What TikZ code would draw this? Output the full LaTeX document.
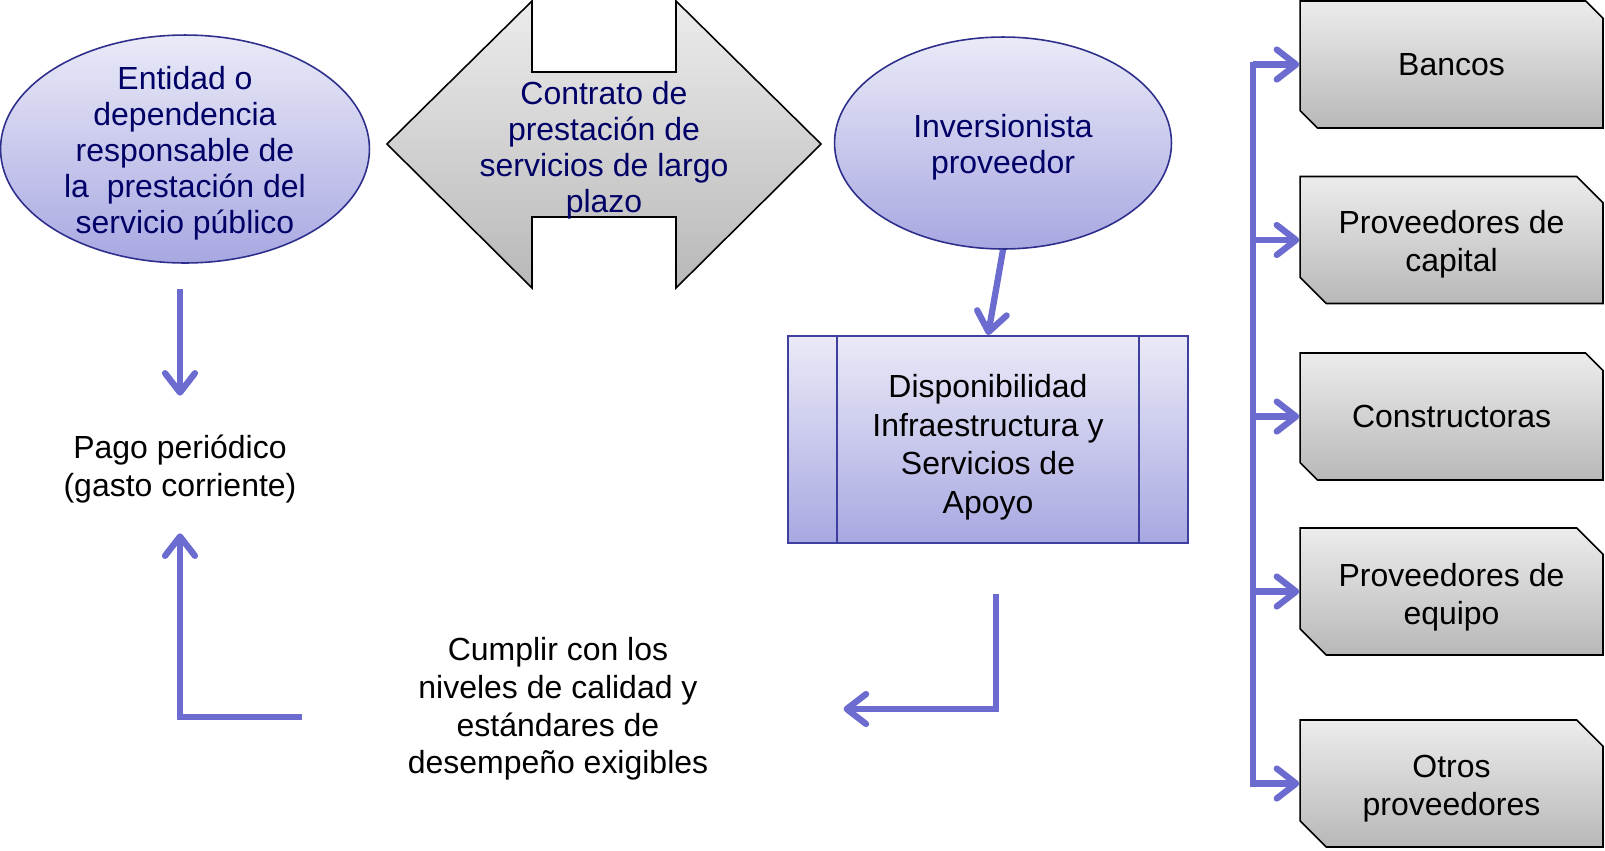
\documentclass[tikz,border=0pt]{standalone}
\usepackage{fontspec}
\setmainfont{Liberation Sans}
\usepackage{tikz}
\usetikzlibrary{shapes,arrows.meta,positioning,calc}

\definecolor{lavtop}{RGB}{234,234,248}
\definecolor{lavbot}{RGB}{168,168,226}
\definecolor{ellline}{RGB}{46,46,140}
\definecolor{procline}{RGB}{63,63,160}
\definecolor{navytext}{RGB}{0,0,102}
\definecolor{graytop}{RGB}{236,236,236}
\definecolor{graybot}{RGB}{184,184,184}
\definecolor{flowblue}{RGB}{108,108,208}

\newcommand{\diafont}{\fontsize{18.2}{21.5}\selectfont}
\newcommand{\navyfont}{\fontsize{18.2}{20.4}\selectfont}
\newcommand{\procfont}{\fontsize{18.2}{22}\selectfont}
% invisible strut that lowers the text block a little
\newcommand{\topline}[1][1em]{\rule{0pt}{#1}}

\begin{document}
\begin{tikzpicture}[x=0.02cm, y=-0.02cm]
    % Define styles
    \tikzset{
        ente/.style={draw=ellline, line width=0.9pt, ellipse, top color=lavtop, bottom color=lavbot, inner xsep=0pt, inner ysep=-0.5cm, text=navytext, align=center, font=\navyfont},
        proc/.style={draw=procline, line width=1.1pt, rectangle, top color=lavtop, bottom color=lavbot, minimum width=8cm, minimum height=4.14cm, align=center, font=\procfont},
        actor/.style={draw=black, line width=0.9pt, chamfered rectangle, chamfered rectangle corners={north east, south west}, chamfered rectangle xsep=0.4cm, top color=graytop, bottom color=graybot, minimum width=6.06cm, minimum height=2.54cm, inner sep=0pt, align=center, font=\diafont},
        plain/.style={inner sep=0pt, align=center, font=\diafont},
        flow/.style={draw=flowblue, line width=3.6pt, -{Straight Barb[length=11pt, width=17pt, round]}}
    }
    \useasboundingbox (0,0) rectangle (1605,850);

    % Contract double arrow
    \path[draw, line width=0.9pt, top color=graytop, bottom color=graybot]
        (387,144) -- (532,1) -- (532,72) -- (676,72) -- (676,1) -- (821,144)
        -- (676,288) -- (676,217) -- (532,217) -- (532,288) -- cycle;

    % Place nodes
    \node[ente, minimum width=7.38cm, minimum height=4.56cm] (ent) at (185,149) {\topline Entidad o\\dependencia\\responsable de\\la\ \ prestación del\\servicio público};
    \node[plain, text=navytext, font=\navyfont] (contrato) at (604,150) {Contrato de\\prestación de\\servicios de largo\\plazo};
    \node[ente, minimum width=6.74cm, minimum height=4.24cm] (inv) at (1003,143) {\topline Inversionista\\proveedor};
    \node[proc] (disp) at (988,439.5) {\topline[1.2em]Disponibilidad\\Infraestructura y\\Servicios de\\Apoyo};
    \node[plain] (pago) at (180,469) {Pago periódico\\(gasto corriente)};
    \node[plain] (cumplir) at (558,709) {Cumplir con los\\niveles de calidad y\\estándares de\\desempeño exigibles};

    \node[actor] (bancos) at (1451.5,64.5) {Bancos};
    \node[actor] (capital) at (1451.5,240) {\topline Proveedores de\\capital};
    \node[actor] (constr) at (1451.5,416.5) {Constructoras};
    \node[actor] (equipo) at (1451.5,591.5) {\topline[1.1em]Proveedores de\\equipo};
    \node[actor] (otros) at (1451.5,783.5) {\topline Otros\\proveedores};
    \coordinate (trunk) at (1253,0);

    % Side bars of the process box
    \draw[procline, line width=1.1pt] ([xshift=1cm]disp.north west) -- ([xshift=1cm]disp.south west);
    \draw[procline, line width=1.1pt] ([xshift=-1cm]disp.north east) -- ([xshift=-1cm]disp.south east);

    % Draw arrows
    \draw[flow, shorten <=0.5cm, shorten >=0.78cm] (pago.north |- ent.south) -- (pago.north);
    \draw[flow, shorten <=2.1cm, shorten >=0.6cm] ([yshift=-0.16cm]cumplir.west) -| (pago.south);
    \draw[flow, shorten <=1cm, shorten >=2.7cm] ([xshift=0.16cm]disp.south) |- (cumplir.east);
    \draw[flow] (inv.south) -- (disp.north);

    % Arrows to the financing parties
    \draw[flow] ([yshift=0.06cm]trunk |- bancos.west) |- (otros.west);
    \draw[flow] (trunk |- bancos.west) -- (bancos.west);
    \draw[flow] (trunk |- capital.west) -- (capital.west);
    \draw[flow] (trunk |- constr.west) -- (constr.west);
    \draw[flow] (trunk |- equipo.west) -- (equipo.west);
\end{tikzpicture}
\end{document}
